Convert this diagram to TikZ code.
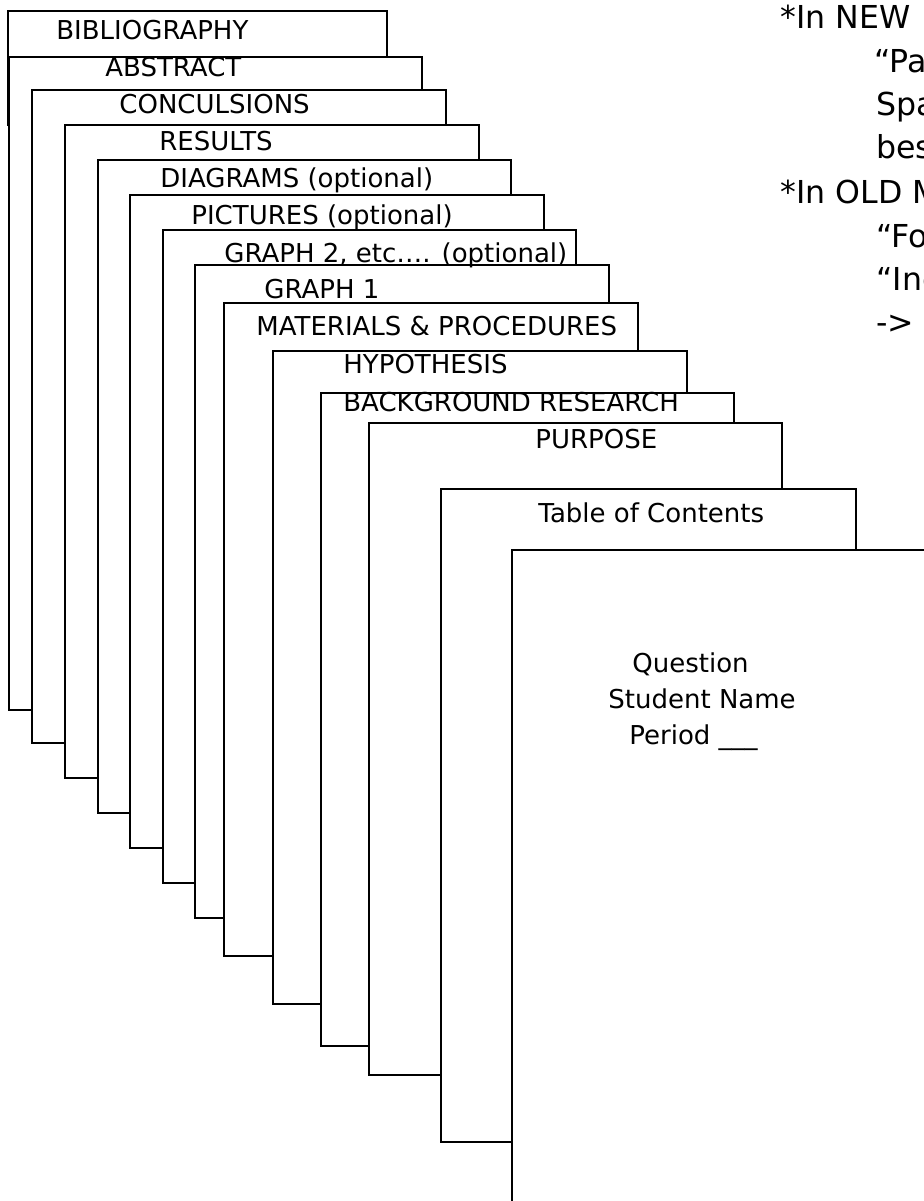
\documentclass[tikz,border=0pt]{standalone}
\usepackage{fontspec}
\setmainfont{DejaVu Sans}

\tikzset{
  page/.style={draw=black, fill=white, line width=1pt},
  tab/.style={anchor=base west, inner sep=0pt, font=\fontsize{13}{15}\selectfont},
  note/.style={anchor=base west, inner sep=0pt, font=\fontsize{15.8}{19}\selectfont}
}

\begin{document}
\begin{tikzpicture}[x=0.5pt, y=-0.5pt]
    \useasboundingbox (0,0) rectangle (924,1201);
    \clip (0,0) rectangle (924,1201);

    % Draw pages, back to front
    \filldraw[page] (8,11) rectangle (387,125);
    \filldraw[page] (9,57) rectangle (422,710);
    \filldraw[page] (32,90) rectangle (446,743);
    \filldraw[page] (65,125) rectangle (479,778);
    \filldraw[page] (98,160) rectangle (511,813);
    \filldraw[page] (130,195) rectangle (544,848);
    \filldraw[page] (163,230) rectangle (576,883);
    \filldraw[page] (195,265) rectangle (609,918);
    \filldraw[page] (224,303) rectangle (638,956);
    \filldraw[page] (273,351) rectangle (687,1004);
    \filldraw[page] (321,393) rectangle (734,1046);
    \filldraw[page] (369,423) rectangle (782,1075);
    \filldraw[page] (441,489) rectangle (856,1142);
    % Title page
    \filldraw[page] (512,550) rectangle (1000,1300);

    % Labels
    \node[tab] (bib) at (56,39) {BIBLIOGRAPHY};
    \node[tab] (abs) at (105,76) {ABSTRACT};
    \node[tab] (con) at (119,113) {CONCULSIONS};
    \node[tab] (res) at (159,150) {RESULTS};
    \node[tab] (dia) at (160,187) {DIAGRAMS (optional)};
    \node[tab] (pic) at (191,224) {PICTURES (optional)};
    \node[tab] (gr2) at (224,262) {GRAPH 2, etc…. (optional)};
    \node[tab] (gr1) at (264,298) {GRAPH 1};
    \node[tab] (mat) at (256,335) {MATERIALS \& PROCEDURES};
    \node[tab] (hyp) at (343,373) {HYPOTHESIS};
    \node[tab] (bgr) at (343,411) {BACKGROUND RESEARCH};
    \node[tab] (pur) at (535,448) {PURPOSE};
    \node[tab] (toc) at (538,522) {Table of Contents};
    \node[tab] (que) at (632,672) {Question};
    \node[tab] (stu) at (608,708) {Student Name};
    \node[tab] (per) at (629,744) {Period \_\_\_};

    % Notes on the right
    \node[note] (new) at (780,28) {*In NEW};
    \node[note] (par) at (874,72) {“Par};
    \node[note] (spa) at (876,115) {Spa};
    \node[note] (bes) at (876,158) {bes};
    \node[note] (old) at (780,203) {*In OLD M};
    \node[note] (fo) at (876,247) {“Fo};
    \node[note] (inc) at (876,290) {“Inc};
    \node[note] (arr) at (876,333) {-> c};
\end{tikzpicture}
\end{document}
